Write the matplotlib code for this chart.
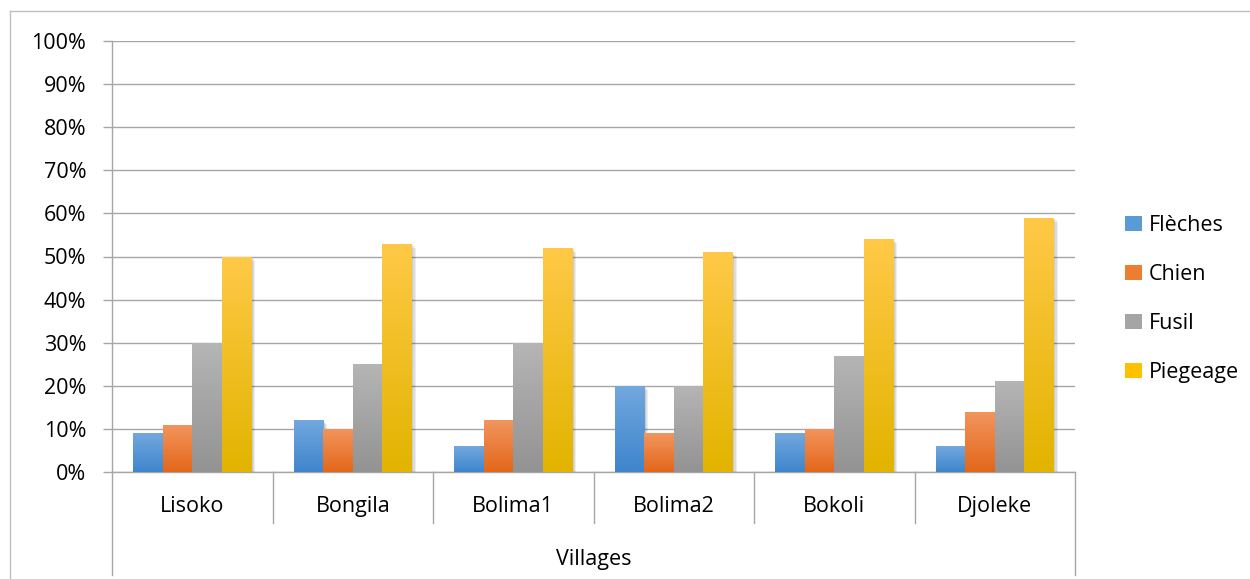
import numpy as np
import matplotlib
matplotlib.use("Agg")
import matplotlib.pyplot as plt
import matplotlib.patheffects as pe
from matplotlib.lines import Line2D
from matplotlib.patches import Patch
import matplotlib.transforms as mtrans

villages = ["Lisoko", "Bongila", "Bolima1", "Bolima2", "Bokoli", "Djoleke"]
series = ["Flèches", "Chien", "Fusil", "Piegeage"]
fleches = [9, 12, 6, 20, 9, 6]
chien = [11, 10, 12, 9, 10, 14]
fusil = [30, 25, 30, 20, 27, 21]
piegeage = [50, 53, 52, 51, 54, 59]
yticks = [0, 10, 20, 30, 40, 50, 60, 70, 80, 90, 100]

# (top, bottom) gradient colours, office style
grads = [("#72a8de", "#3f85cc"), ("#f2955e", "#e3671a"),
         ("#b5b5b5", "#939393"), ("#ffc947", "#e2b400")]
mids = ["#5b9bd5", "#ed7d31", "#a5a5a5", "#ffc000"]

plt.rcParams["font.family"] = ["Open Sans", "DejaVu Sans"]
FONT = 15.5
GRID = "#a6a6a6"

fig = plt.figure(figsize=(12.5, 5.79), dpi=100)
W, H = 1250, 579
x0, x1, ytop, ybot = 112, 1075, 41, 472
ax = fig.add_axes([x0 / W, 1 - ybot / H, (x1 - x0) / W, (ybot - ytop) / H])

x = np.arange(len(villages))
bw = 0.184
shadow = [pe.SimplePatchShadow(offset=(o, -o), shadow_rgbFace="black", alpha=0.07) for o in (1, 2, 3)]
for i, vals in enumerate([fleches, chien, fusil, piegeage]):
    pos = x + (i - 1.5) * bw
    bars = ax.bar(pos, np.array(vals) / 100, width=bw, color=mids[i], zorder=3,
                  linewidth=0, path_effects=shadow + [pe.Normal()])
    top, bot = matplotlib.colors.to_rgb(grads[i][0]), matplotlib.colors.to_rgb(grads[i][1])
    g = np.linspace(0, 1, 64)[:, None]
    img = np.array(top)[None, None, :] * (1 - g[..., None]) + np.array(bot)[None, None, :] * g[..., None]
    for b in bars:
        im = ax.imshow(img, extent=[b.get_x(), b.get_x() + b.get_width(), 0, b.get_height()],
                       aspect="auto", zorder=4, interpolation="bilinear")
        im.set_clip_path(b)

ax.set_xlim(-0.5, len(villages) - 0.5)
ax.set_ylim(0, 1)
ax.set_yticks(np.array(yticks) / 100)
ax.set_yticklabels([f"{t}%" for t in yticks], fontsize=FONT)
ax.yaxis.grid(True, color=GRID, lw=1.0, zorder=0)
ax.set_axisbelow(True)
ax.tick_params(axis="y", length=6.5, width=1.0, color=GRID, pad=12)
ax.set_xticks(x)
ax.set_xticklabels(villages, fontsize=FONT)
ax.tick_params(axis="x", length=0, pad=17)
for s in ["top", "right"]:
    ax.spines[s].set_visible(False)
for s in ["left", "bottom"]:
    ax.spines[s].set_color(GRID)
    ax.spines[s].set_linewidth(1.0)

# category separators and the outer group box
tr = mtrans.blended_transform_factory(ax.transData, ax.transAxes)
for b in np.arange(0.5, len(villages) - 1, 1.0):
    ax.add_line(Line2D([b, b], [0, -51 / 431], transform=tr, color=GRID, lw=1.0, clip_on=False))
for b in [-0.5, len(villages) - 0.5]:
    ax.add_line(Line2D([b, b], [0, -103 / 431], transform=tr, color=GRID, lw=1.0, clip_on=False))
ax.text(0.5, -87 / 431, "Villages", transform=ax.transAxes, ha="center", va="center", fontsize=FONT)

handles = [Patch(facecolor=mids[i], label=s) for i, s in enumerate(series)]
fig.legend(handles=handles, loc="center left", bbox_to_anchor=(1106 / W, 1 - 299 / H),
           frameon=False, fontsize=FONT, handlelength=0.75, handleheight=0.75,
           handletextpad=0.35, labelspacing=1.3)

# chart area border
fig.add_artist(Line2D([10 / W, 10 / W], [0, 1 - 11 / H], color="#bfbfbf", lw=1.0))
fig.add_artist(Line2D([10 / W, 1], [1 - 11 / H, 1 - 11 / H], color="#bfbfbf", lw=1.0))

fig.savefig("out.png", dpi=100)
